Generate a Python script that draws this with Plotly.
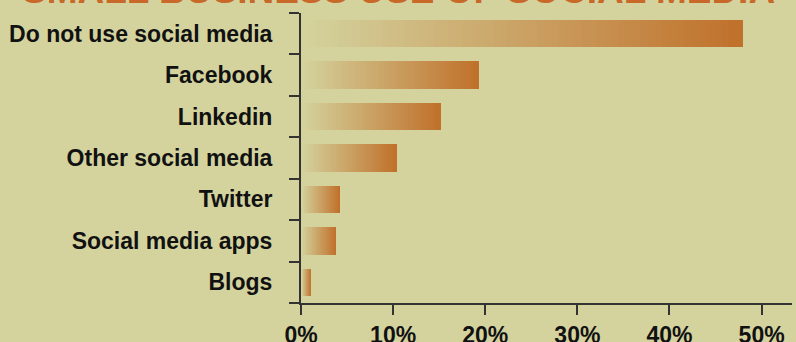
import plotly.graph_objects as go

title_text = "SMALL BUSINESS USE OF SOCIAL MEDIA"
categories = ["Do not use social media", "Facebook", "Linkedin", "Other social media",
              "Twitter", "Social media apps", "Blogs"]
values = [48.0, 19.3, 15.2, 10.4, 4.2, 3.8, 1.1]
x_ticks = [0, 10, 20, 30, 40, 50]
x_tick_labels = ["0%", "10%", "20%", "30%", "40%", "50%"]

BG = (212, 211, 158)
END = (192, 112, 42)
N = 60

def mix(t):
    r = [round(BG[i] + (END[i] - BG[i]) * t) for i in range(3)]
    return f"rgb({r[0]},{r[1]},{r[2]})"

fig = go.Figure()
for k in range(N):
    frac = (N - k) / N
    t = (N - k - 0.5) / N
    fig.add_trace(go.Bar(
        y=categories,
        x=[v * frac for v in values],
        orientation="h",
        width=0.66,
        marker=dict(color=mix(t), line=dict(width=0)),
        hoverinfo="skip",
        showlegend=False,
    ))

fig.add_annotation(
    text=f"<b>{title_text}</b>", xref="paper", yref="paper",
    x=(398 - 301) / (796 - 301 - 4), y=1, xanchor="center", yanchor="bottom", yshift=0,
    showarrow=False,
    font=dict(family="Liberation Sans, Arial, sans-serif", size=37, color="#c8692a"),
)

font_lbl = dict(family="Liberation Sans, Arial, sans-serif", size=23, color="#111111")

fig.update_layout(
    width=796, height=342,
    margin=dict(l=301, r=4, t=13, b=39, autoexpand=False),
    paper_bgcolor="rgb(212,211,158)",
    plot_bgcolor="rgb(212,211,158)",
    barmode="overlay",
    bargap=0,
    font=font_lbl,
    xaxis=dict(
        range=[0, 53.3], tickvals=x_ticks, ticktext=[f"<b>{s}</b>" for s in x_tick_labels],
        showgrid=False, zeroline=False, showline=True, linecolor="#333333", linewidth=2,
        ticks="outside", ticklen=10, tickwidth=2, tickcolor="#333333",
        tickfont=font_lbl, ticklabelstandoff=0, automargin=False, fixedrange=True,
    ),
    yaxis=dict(
        categoryorder="array", categoryarray=categories,
        range=[6.5, -0.5], tickson="boundaries",
        tickvals=categories, ticktext=[f"<b>{c}</b>" for c in categories],
        showgrid=False, zeroline=False, showline=True, linecolor="#333333", linewidth=2,
        ticks="outside", ticklen=10, tickwidth=2, tickcolor="#333333",
        tickfont=font_lbl, ticklabelstandoff=22, automargin=False, fixedrange=True,
    ),
)

fig.write_html("out.html", config={"displayModeBar": False})
